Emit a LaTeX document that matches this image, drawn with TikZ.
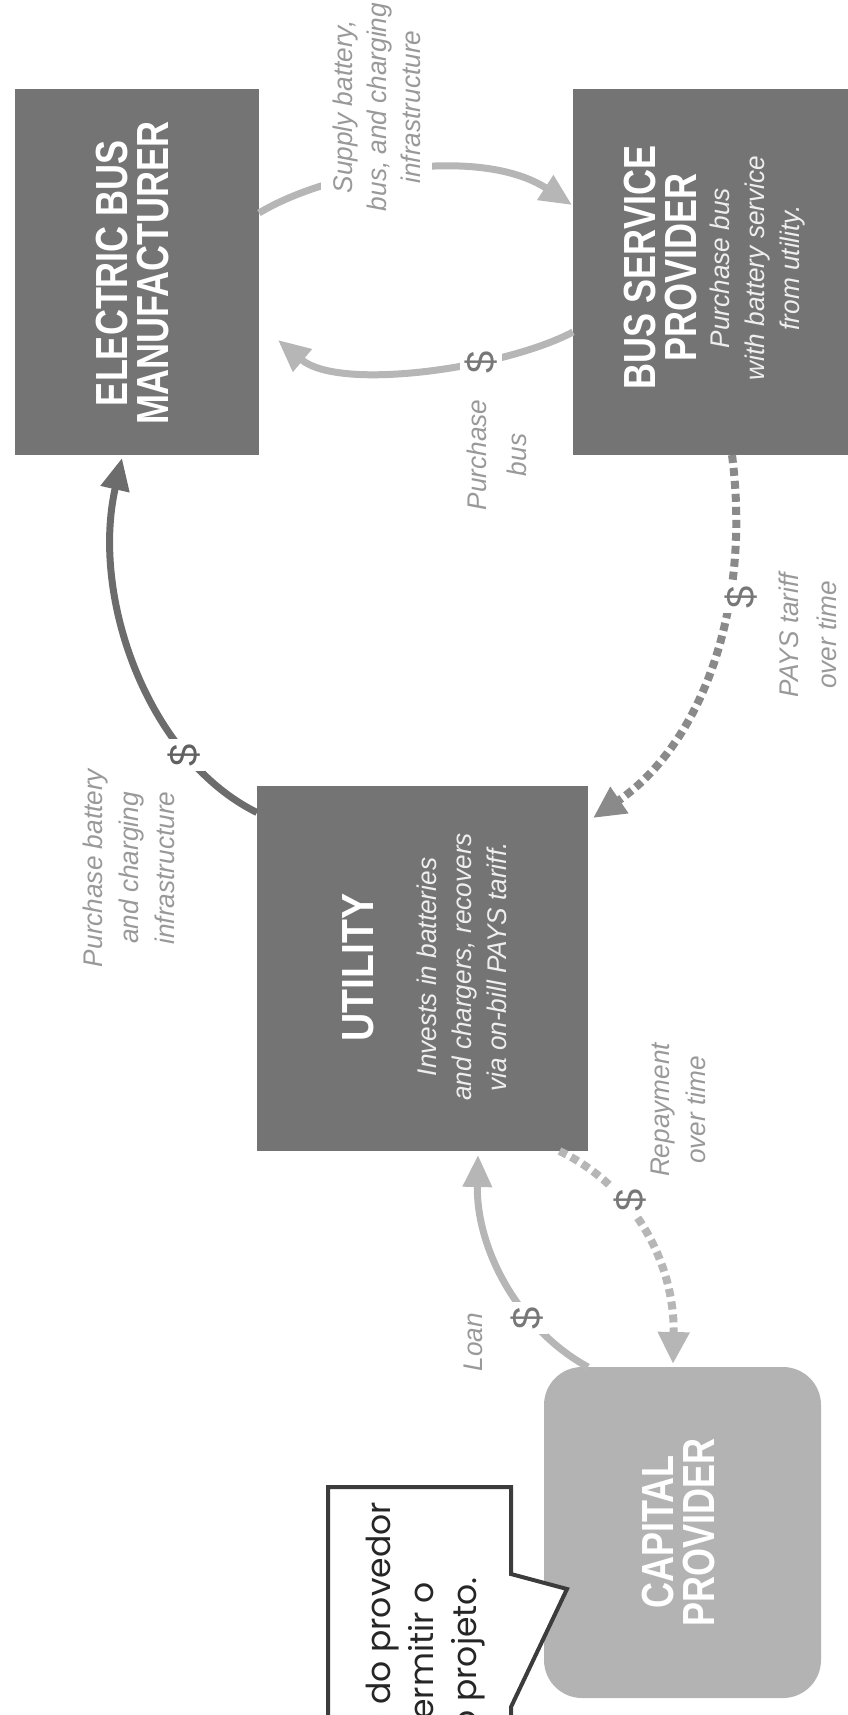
\documentclass[tikz,border=0pt]{standalone}
\usepackage{fontspec}
\setmainfont{Liberation Sans}
\newfontfamily\ttlfont{Liberation Sans}[FakeStretch=0.8]
\newfontfamily\ttlfontw{Liberation Sans}[FakeStretch=0.87]
\newfontfamily\lblfont{Liberation Sans}[FakeStretch=0.97]
\newfontfamily\dolfont{Liberation Sans}
\newfontfamily\cofont{Poppins}
\usetikzlibrary{arrows.meta,calc}
\definecolor{boxdark}{HTML}{747474}
\definecolor{boxlight}{HTML}{B3B3B3}
\definecolor{arclight}{HTML}{B6B6B6}
\definecolor{arcdark}{HTML}{6C6C6C}
\definecolor{arcmid}{HTML}{8A8A8A}
\definecolor{lbltext}{HTML}{999999}
\definecolor{doltext}{HTML}{777777}
\definecolor{subtext}{HTML}{EEEEEE}
\definecolor{coline}{HTML}{3C3C3C}
\begin{document}
\begin{tikzpicture}[x=1pt,y=-1pt,
  box/.style={fill=boxdark, inner sep=0pt, outer sep=0pt},
  lightbox/.style={fill=boxlight, inner sep=0pt, outer sep=0pt, rounded corners=38pt},
  title/.style={rotate=90, text=white, align=center, inner sep=0pt, font={\ttlfont\bfseries\fontsize{45pt}{41pt}\selectfont}},
  titlew/.style={rotate=90, text=white, align=center, inner sep=0pt, font={\ttlfontw\bfseries\fontsize{45pt}{41pt}\selectfont}},
  sub/.style={rotate=90, text=subtext, align=center, inner sep=0pt, font={\lblfont\itshape\fontsize{27pt}{35pt}\selectfont}},
  lbl/.style={rotate=90, text=lbltext, align=center, inner sep=0pt, font={\lblfont\itshape\fontsize{27pt}{36pt}\selectfont}},
  dol/.style={rotate=90, text=doltext, fill=white, inner sep=5pt, font={\dolfont\fontsize{40pt}{40pt}\selectfont}},
  flow/.style={line width=7pt, -{Triangle[width=28pt,length=32pt]}},
  dashflow/.style={line width=8pt, dash pattern=on 8pt off 5pt, -{Triangle[width=30pt,length=32pt]}},
  cotext/.style={rotate=90, inner sep=0pt, anchor=base east, text=black!85, font={\cofont\fontsize{33pt}{43pt}\selectfont}}
]
\useasboundingbox (0,0) rectangle (848,1715);
\clip (0,0) rectangle (848,1715);

% boxes
\node[box, minimum width=244pt, minimum height=366pt] (ebm) at (137,272) {};
\node[box, minimum width=286pt, minimum height=366pt] (bsp) at (716,272) {};
\node[box, minimum width=331pt, minimum height=365pt] (utility) at (422.5,968.5) {};
\node[lightbox, minimum width=277pt, minimum height=331pt] (capital) at (682.5,1532.5) {};

% connectors
\draw[flow, arclight] ([yshift=59pt]ebm.east) .. controls (330,170) and (480,145) .. ([xshift=-1pt,yshift=67pt]bsp.west);
\draw[flow, arclight] ([yshift=-60pt]bsp.west) .. controls (505,368) and (340,392) .. ([xshift=19pt,yshift=-68pt]ebm.east);
\draw[flow, arcdark] ([yshift=156pt]utility.west) .. controls (150,760) and (90,600) .. ([xshift=-15pt,yshift=-3pt]ebm.south);
\draw[dashflow, arcmid] ([xshift=16pt]bsp.south) .. controls (752,610) and (700,745) .. ([xshift=5pt,yshift=150.5pt]utility.east);
\draw[dashflow, arclight] ([xshift=137pt]utility.south) .. controls (640,1190) and (675,1270) .. ([xshift=-9.5pt,yshift=3pt]capital.north);
\draw[flow, arclight] ([xshift=-94.5pt]capital.north) .. controls (520,1330) and (476,1250) .. ([xshift=55.5pt,yshift=-4pt]utility.south);

% dollar signs
\node[dol] (dbus) at (481,362) {\$};
\node[dol, text=black!62] (dbat) at (184,755) {\$};
\node[dol] (dpays) at (741,597) {\$};
\node[dol] (drep) at (630,1200) {\$};
\node[dol] (dloan) at (527,1318) {\$};

% connector labels
\node[lbl, fill=white, inner ysep=12pt, inner xsep=4pt, font={\lblfont\itshape\fontsize{27pt}{34pt}\selectfont}] (lsupply) at (376.5,107) {Supply battery,\\bus, and charging\\infrastructure};
\node[lbl, font={\lblfont\itshape\fontsize{27pt}{40pt}\selectfont}] (lbus) at (496.5,455) {Purchase\\bus};
\node[lbl] (lbat) at (129,868) {Purchase battery\\and charging\\infrastructure};
\node[lbl, font={\lblfont\itshape\fontsize{27pt}{38pt}\selectfont}] (lpays) at (807.5,635) {PAYS tariff\\over time};
\node[lbl] (lrep) at (678.5,1110) {Repayment\\over time};
\node[lbl] (lloan) at (473.5,1342) {Loan};

% box texts
\node[title] (ebmt) at (132.5,273) {ELECTRIC BUS\\MANUFACTURER};
\node[title] (bspt) at (660,267.5) {BUS SERVICE\\PROVIDER};
\node[sub] (bsps) at (758,268) {Purchase bus\\with battery service\\from utility.};
\node[titlew] (utilt) at (358,967.5) {UTILITY};
\node[sub] (utils) at (462,967) {Invests in batteries\\and chargers, recovers\\via on-bill PAYS tariff.};
\node[title] (capt) at (678.5,1532) {CAPITAL\\PROVIDER};

% callout
\draw[line width=4pt, draw=coline, fill=white, line join=miter] (328,1730) -- (328,1487) -- (511,1487) -- (511,1574) -- (567,1589) -- (511,1707) -- (511,1730);
\node[cotext] (co1) at (390,1502) {e do provedor};
\node[cotext] (co2) at (433,1582) {ermitir o};
\node[cotext] (co3) at (476,1577) {o projeto.};
\end{tikzpicture}
\end{document}
